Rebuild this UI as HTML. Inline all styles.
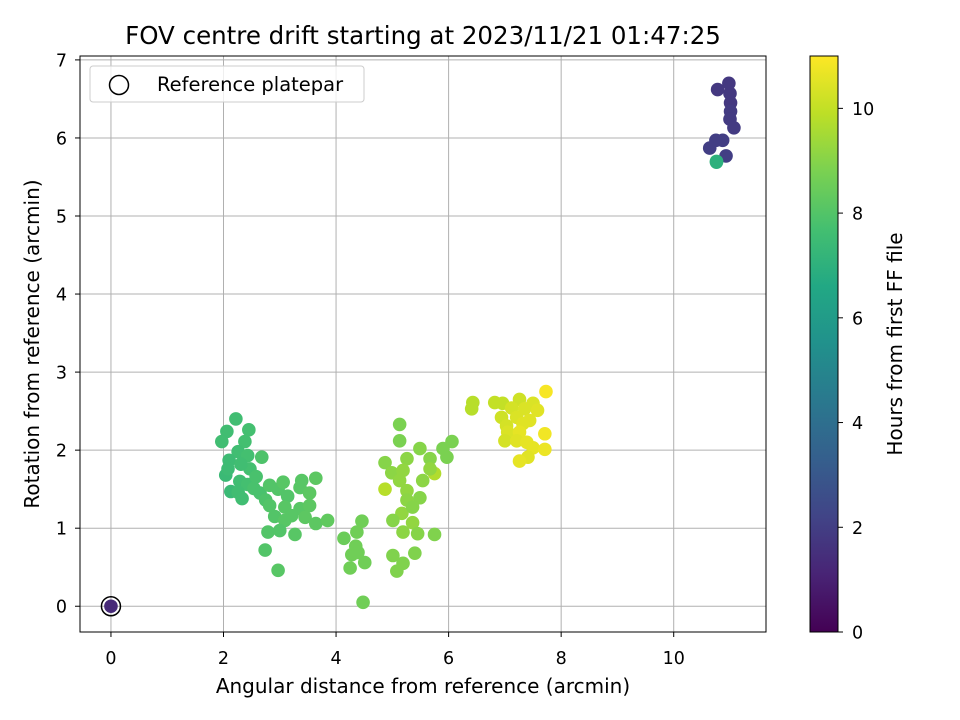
<!DOCTYPE html>
<html><head><meta charset="utf-8"><style>
body{margin:0;background:#fff;}
svg{display:block;font-family:"DejaVu Sans","Liberation Sans",sans-serif;}
</style></head><body>
<svg id="chart" width="960" height="720">
<rect width="960" height="720" fill="#fff"/>
<text x="423" y="44" font-size="24.5" text-anchor="middle">FOV centre drift starting at 2023/11/21 01:47:25</text>
<g id="grid"></g><g id="pts"></g><g id="axes"></g>
<g>
<rect x="90" y="66" width="274" height="36" rx="3" fill="#fff" fill-opacity="0.8" stroke="#ccc"/>
<circle cx="119" cy="85" r="9.5" fill="none" stroke="#000" stroke-width="1.5"/>
<text x="157" y="91" font-size="19.5">Reference platepar</text>
</g>
<defs><linearGradient id="vir" x1="0" y1="1" x2="0" y2="0">
<stop offset="0" stop-color="#440154"/><stop offset="0.1" stop-color="#482475"/><stop offset="0.2" stop-color="#414487"/><stop offset="0.3" stop-color="#355f8d"/><stop offset="0.4" stop-color="#2a788e"/><stop offset="0.5" stop-color="#21918c"/><stop offset="0.6" stop-color="#22a884"/><stop offset="0.7" stop-color="#44bf70"/><stop offset="0.8" stop-color="#7ad151"/><stop offset="0.9" stop-color="#bddf26"/><stop offset="1" stop-color="#fde725"/></linearGradient></defs>
<rect x="810" y="56" width="28" height="576" fill="url(#vir)" stroke="#000" stroke-width="1"/>
<g id="cbar"></g>
<text transform="translate(902,344) rotate(-90)" font-size="20" text-anchor="middle">Hours from first FF file</text>
<text x="423" y="693" font-size="20" text-anchor="middle">Angular distance from reference (arcmin)</text>
<text transform="translate(39,344) rotate(-90)" font-size="20" text-anchor="middle">Rotation from reference (arcmin)</text>
</svg>
<script>
const xTicks=[0,2,4,6,8,10];
const yTicks=[0,1,2,3,4,5,6,7];
const cTicks=[0,2,4,6,8,10];
const xs=[2.22,2.06,2.45,1.97,2.38,2.26,2.43,2.10,2.47,2.68,2.31,2.04,2.29,2.13,2.43,2.26,2.54,2.33,2.65,2.82,2.97,2.75,3.06,3.14,3.36,3.53,3.39,3.64,2.82,3.09,3.36,2.91,3.21,3.53,3.09,3.45,3.64,3.85,2.79,3.00,3.27,2.74,2.97,2.08,2.58,
4.46,4.37,4.14,4.35,4.28,4.51,4.25,4.48,4.39,
5.13,5.13,4.87,4.99,5.26,5.19,5.49,5.67,5.75,5.54,5.49,5.26,4.87,5.26,5.17,5.01,5.36,5.19,5.45,5.75,5.01,5.40,5.19,5.08,6.06,5.97,5.90,5.67,5.13,5.36,
6.43,6.41,6.82,6.96,7.26,7.50,7.73,7.12,7.35,7.58,6.94,7.21,7.44,7.03,7.32,7.05,7.26,7.71,7.00,7.21,7.39,7.50,7.71,7.41,7.26,
10.78,10.98,11.00,11.01,11.01,11.00,11.07,10.87,10.75,10.64,10.93,10.76,10.76,0];
const ys=[2.40,2.24,2.26,2.11,2.11,1.98,1.93,1.87,1.76,1.91,1.82,1.68,1.60,1.47,1.56,1.46,1.51,1.38,1.45,1.55,1.50,1.36,1.59,1.41,1.52,1.45,1.61,1.64,1.29,1.27,1.25,1.15,1.16,1.29,1.10,1.14,1.06,1.10,0.95,0.97,0.92,0.72,0.46,1.76,1.66,
1.09,0.95,0.87,0.77,0.66,0.56,0.49,0.05,0.69,
2.33,2.12,1.84,1.71,1.89,1.74,2.02,1.89,1.70,1.61,1.39,1.48,1.50,1.36,1.19,1.10,1.07,0.95,0.93,0.92,0.65,0.68,0.55,0.45,2.11,1.91,2.02,1.76,1.61,1.27,
2.61,2.53,2.61,2.60,2.65,2.60,2.75,2.54,2.53,2.51,2.42,2.42,2.38,2.31,2.34,2.23,2.23,2.21,2.12,2.12,2.10,2.03,2.01,1.91,1.86,
6.62,6.70,6.57,6.45,6.34,6.24,6.13,5.97,5.97,5.87,5.77,5.70,5.69,0];
const hours=[7.6,7.6,7.7,7.6,7.7,7.6,7.7,7.5,7.7,7.9,7.6,7.4,7.6,7.4,7.7,7.6,7.8,7.6,7.8,8.0,8.0,7.9,8.1,8.0,8.1,8.2,8.1,8.2,8.0,8.1,8.1,8.0,8.1,8.2,8.1,8.2,8.2,8.3,8.0,8.0,8.1,8.0,8.1,7.5,7.8,
8.6,8.6,8.5,8.6,8.6,8.6,8.6,8.6,8.6,
8.8,8.8,9.0,9.1,9.1,9.2,9.0,9.0,9.7,9.1,9.0,9.2,9.8,9.1,9.2,9.0,9.2,9.1,9.0,8.9,8.9,8.9,8.9,8.9,8.8,8.8,8.8,9.2,9.2,9.0,
9.8,9.8,10.0,10.0,10.2,10.4,10.9,10.3,10.4,10.5,10.2,10.4,10.5,10.3,10.5,10.4,10.6,10.8,10.3,10.5,10.6,10.6,10.7,10.5,10.6,
1.8,1.8,1.8,1.8,1.9,1.9,1.9,2.0,2.0,2.0,2.0,7.2,7.0,1.3];
const NS="http://www.w3.org/2000/svg";
const X0=80,X1=766,Y0=56,Y1=632;
const xmin=-0.55,xmax=11.64,ymin=-0.33,ymax=7.05;
function sx(v){return X0+(v-xmin)/(xmax-xmin)*(X1-X0);}
function sy(v){return Y1-(v-ymin)/(ymax-ymin)*(Y1-Y0);}
function cy(v){return 632-v/11*576;}
const vs=["#440154","#482475","#414487","#355f8d","#2a788e","#21918c","#22a884","#44bf70","#7ad151","#bddf26","#fde725"];
function hex(h){return [1,3,5].map(i=>parseInt(h.substr(i,2),16));}
function vir(t){t=Math.max(0,Math.min(1,t))*10;const i=Math.min(9,Math.floor(t)),f=t-i;const a=hex(vs[i]),b=hex(vs[i+1]);return "rgb("+a.map((c,k)=>Math.round(c+(b[k]-c)*f)).join(",")+")";}
function mk(tag,attrs,parent){const e=document.createElementNS(NS,tag);for(const k in attrs)e.setAttribute(k,attrs[k]);parent.appendChild(e);return e;}
const grid=document.getElementById('grid'),axes=document.getElementById('axes'),pts=document.getElementById('pts'),cbar=document.getElementById('cbar');
xTicks.forEach(t=>{const x=sx(t);
const l=mk('line',{x1:x,x2:x,y1:Y0,y2:Y1,stroke:'#b0b0b0','stroke-width':1},grid);


mk('line',{x1:x,x2:x,y1:Y1,y2:Y1+5,stroke:'#000'},axes);
const tx=mk('text',{x:x,y:Y1+32,'font-size':17.5,'text-anchor':'middle'},axes);tx.textContent=t;

});
yTicks.forEach(t=>{const y=sy(t);
const l=mk('line',{x1:X0,x2:X1,y1:y,y2:y,stroke:'#b0b0b0','stroke-width':1},grid);


mk('line',{x1:X0-5,x2:X0,y1:y,y2:y,stroke:'#000'},axes);
const tx=mk('text',{x:X0-13,y:y+6.5,'font-size':17.5,'text-anchor':'end'},axes);tx.textContent=t;

});
const fr=mk('rect',{x:X0,y:Y0,width:X1-X0,height:Y1-Y0,fill:'none',stroke:'#000','stroke-width':1},axes);


for(let i=0;i<xs.length;i++){
const c=mk('circle',{cx:sx(xs[i]),cy:sy(ys[i]),r:6.8,fill:vir(hours[i]/11)},pts);

}
const ref=mk('circle',{cx:sx(0),cy:sy(0),r:9.5,fill:'none',stroke:'#000','stroke-width':1.5},pts);


cTicks.forEach(t=>{const y=cy(t);
mk('line',{x1:838,x2:843,y1:y,y2:y,stroke:'#000'},cbar);
const tx=mk('text',{x:852,y:y+6.5,'font-size':17.5},cbar);tx.textContent=t;

});
</script>
</body></html>
